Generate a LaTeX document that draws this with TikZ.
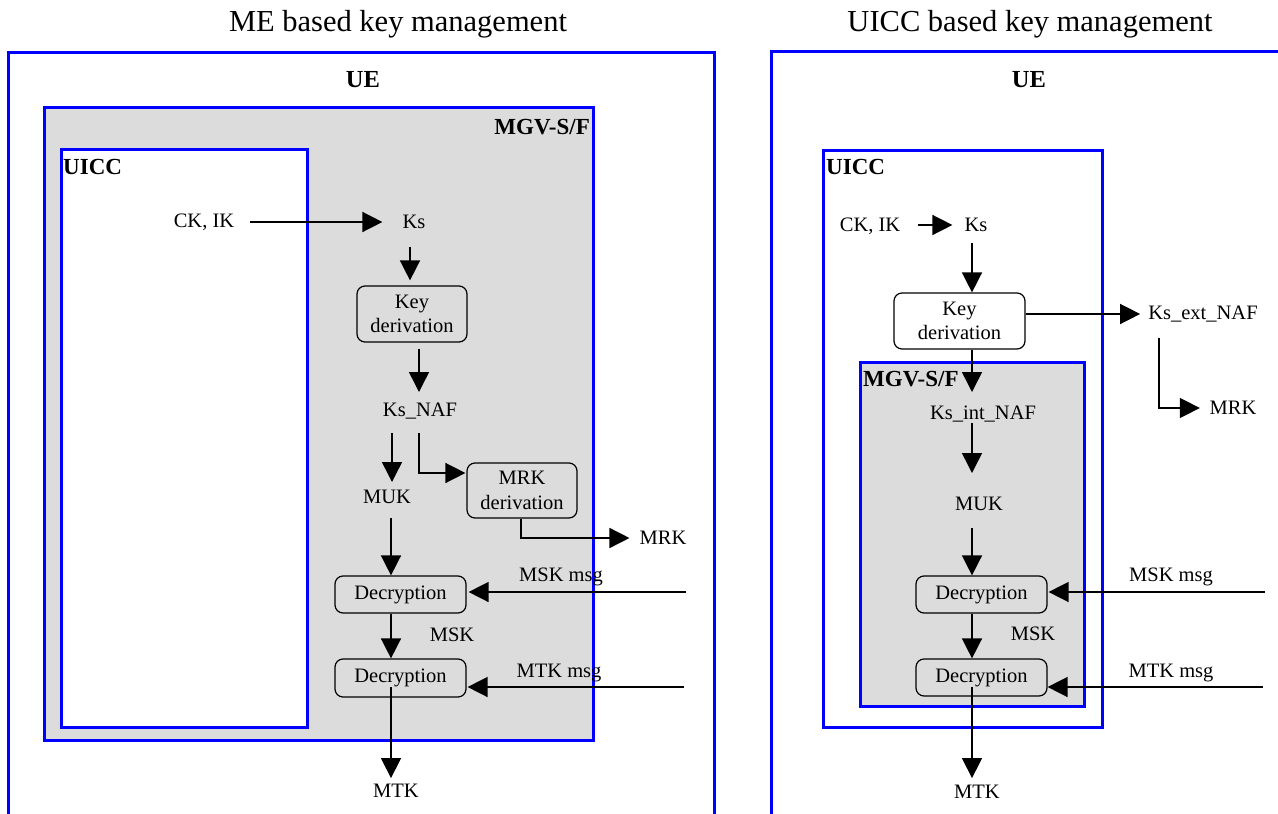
\documentclass[tikz,border=0pt]{standalone}
\usepackage{fontspec}
\setmainfont{Liberation Serif}
\usetikzlibrary{arrows.meta,calc}
\definecolor{frameblue}{RGB}{0,0,255}
\definecolor{mgvgray}{RGB}{220,220,220}
\tikzset{
  frame/.style={draw=frameblue,line width=3pt},
  lbl/.style={font=\fontsize{20.5}{24.5}\selectfont,inner sep=0pt},
  ttl/.style={font=\fontsize{30.5}{36}\selectfont,inner sep=0pt},
  bld/.style={font=\fontsize{23}{27}\selectfont\bfseries,inner sep=0pt},
  proc/.style={draw,rounded corners=8pt,line width=1.2pt,font=\fontsize{20.5}{24.5}\selectfont,align=center,inner sep=0pt},
  arr/.style={line width=1.5pt,-{Triangle[length=20pt,width=20pt]}},
}
\begin{document}
\begin{tikzpicture}[x=1pt,y=-1pt]
\useasboundingbox (0,0) rectangle (1278,814);
\begin{scope}
\clip (0,0) rectangle (1278,814);
% ---------------- frames ----------------
\draw[frame] (8,820) -- (8,52) -- (714,52) -- (714,820);
\draw[frame,fill=mgvgray] (44,107) rectangle (593,740);
\draw[frame,fill=white] (61,149) rectangle (307,727);
\draw[frame] (771,820) -- (771,51) -- (1290,51);
\draw[frame,fill=white] (823,150) rectangle (1102,727);
\draw[frame,fill=mgvgray] (860,362) rectangle (1084,706);
\end{scope}

% ---------------- left panel ----------------
\node[ttl] (title1) at (398,24) {ME based key management};
\node[bld,font=\fontsize{24.5}{28}\selectfont\bfseries] (ue1) at (363,80) {UE};
\node[bld,anchor=east] (mgv1) at (590,127) {MGV-S/F};
\node[bld,anchor=west] (uicc1) at (63,167) {UICC};

\node[lbl] (ckik1) at (204,222) {CK, IK};
\node[lbl] (ks1) at (414,222) {Ks};
\node[proc,minimum width=110pt,minimum height=56pt] (kd1) at (412,314) {Key\\derivation};
\node[lbl] (ksnaf1) at (420,411) {Ks\_NAF};
\node[lbl] (muk1) at (387,497) {MUK};
\node[proc,minimum width=110pt,minimum height=55pt] (mrkd1) at (522,490.5) {MRK\\derivation};
\node[lbl] (mrk1) at (663,538) {MRK};
\node[proc,minimum width=131pt,minimum height=37pt] (dec1a) at (400.5,594.5) {Decryption};
\node[proc,minimum width=131pt,minimum height=38pt] (dec1b) at (400.5,678) {Decryption};
\node[lbl] (mskmsg1) at (561,577) {MSK msg};
\node[lbl] (msk1) at (452,635) {MSK};
\node[lbl] (mtkmsg1) at (559,673) {MTK msg};
\node[lbl] (mtk1) at (396,791) {MTK};
\coordinate (mskin1) at (686,592);
\coordinate (mtkin1) at (684,687);

\draw[arr] ($(ckik1.east)+(16,0)$) -- ($(ks1.west)+(-20,0)$);
\draw[arr] ($(ks1)+(-4,25)$) -- ($(kd1.north)+(-2,-5)$);
\draw[arr] ($(kd1.south)+(7,6)$) -- ($(ksnaf1)+(-1,-19)$);
\draw[arr] ($(ksnaf1)+(-28,22)$) -- ($(muk1)+(5,-15)$);
\draw[arr] ($(ksnaf1)+(-1,22)$) |- ($(mrkd1.west)+(-1,-17.5)$);
\draw[arr] ($(mrkd1.south)+(-1,0)$) |- ($(mrk1.west)+(-10,0)$);
\draw[arr] ($(muk1)+(4,21)$) -- ($(dec1a.north)+(-9.5,0)$);
\draw[arr] (mskin1) -- ($(dec1a.east)+(2,-2.5)$);
\draw[arr] ($(dec1a.south)+(-9.5,0)$) -- ($(dec1b.north)+(-9.5,0)$);
\draw[arr] (mtkin1) -- ($(dec1b.east)+(1,9)$);
\draw[arr] ($(dec1b)+(-9.5,9)$) -- ($(mtk1.north)+(-5,-6)$);

% ---------------- right panel ----------------
\node[ttl] (title2) at (1030,24) {UICC based key management};
\node[bld,font=\fontsize{24.5}{28}\selectfont\bfseries] (ue2) at (1029,80) {UE};
\node[bld,anchor=west] (uicc2) at (826,167) {UICC};
\node[bld,anchor=west] (mgv2) at (863,379) {MGV-S/F};

\node[lbl] (ckik2) at (870,226) {CK, IK};
\node[lbl] (ks2) at (976,225) {Ks};
\node[proc,fill=white,minimum width=131pt,minimum height=56pt] (kd2) at (959.5,321) {Key\\derivation};
\node[lbl] (ksext) at (1203,314) {Ks\_ext\_NAF};
\node[lbl] (mrk2) at (1233,408) {MRK};
\node[lbl] (ksint) at (983,414) {Ks\_int\_NAF};
\node[lbl] (muk2) at (979,504) {MUK};
\node[proc,minimum width=131pt,minimum height=37pt] (dec2a) at (981.5,594.5) {Decryption};
\node[proc,minimum width=131pt,minimum height=37pt] (dec2b) at (981.5,677.5) {Decryption};
\node[lbl] (mskmsg2) at (1171,577) {MSK msg};
\node[lbl] (msk2) at (1033,634) {MSK};
\node[lbl] (mtkmsg2) at (1171,673) {MTK msg};
\node[lbl] (mtk2) at (977,792) {MTK};
\coordinate (mskin2) at (1265,592);
\coordinate (mtkin2) at (1263,687);

\draw[arr] ($(ckik2.east)+(18,-1)$) -- ($(ks2.west)+(-12,0)$);
\draw[arr] ($(ks2)+(-4,18)$) -- ($(kd2.north)+(12.5,0)$);
\draw[arr] ($(kd2.east)+(0,-7)$) -- ($(ksext.west)+(-8,0)$);
\draw[arr] ($(ksext.west)+(11,24)$) |- ($(mrk2.west)+(-9.6,0)$);
\draw[arr] ($(kd2.south)+(12.5,0)$) -- ($(ksint)+(-11,-22)$);
\draw[arr] ($(ksint)+(-11,9)$) -- ($(muk2)+(-7,-31)$);
\draw[arr] ($(muk2)+(-7,24)$) -- ($(dec2a.north)+(-9.5,0)$);
\draw[arr] (mskin2) -- ($(dec2a.east)+(1,-2.5)$);
\draw[arr] ($(dec2a.south)+(-9.5,0)$) -- ($(dec2b.north)+(-9.5,0)$);
\draw[arr] (mtkin2) -- ($(dec2b.east)+(0,9.5)$);
\draw[arr] ($(dec2b)+(-9.5,9.5)$) -- ($(mtk2.north)+(-5,-7)$);
\end{tikzpicture}
\end{document}
